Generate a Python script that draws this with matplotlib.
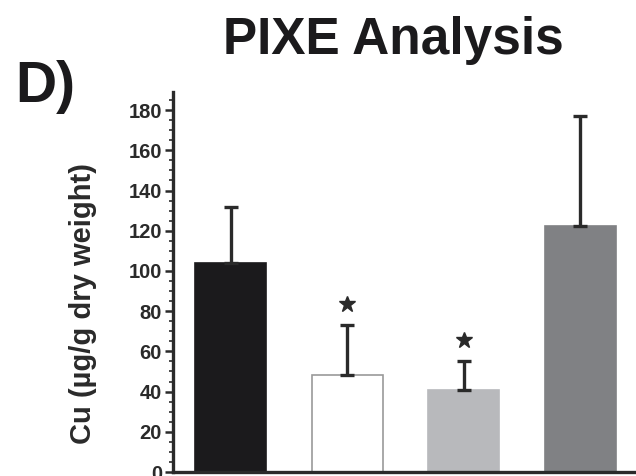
import numpy as np
import matplotlib
matplotlib.use("Agg")
import matplotlib.pyplot as plt
from matplotlib.ticker import MultipleLocator

# values
groups = ["A", "B", "C", "D"]
means = [104, 48, 41, 122.5]
errors = [28, 25, 14, 54.5]
bar_colors = ["#1b1a1c", "#ffffff", "#b8b9bc", "#808184"]
edge_colors = ["#1b1a1c", "#9a9a9a", "#b8b9bc", "#808184"]
significant = [False, True, True, False]
yticks = list(range(0, 181, 20))

plt.rcParams["font.family"] = ["Liberation Sans", "DejaVu Sans"]
plt.rcParams["font.weight"] = "bold"

W, H = 636, 476
fig = plt.figure(figsize=(W / 100, H / 100), dpi=100)
ax = fig.add_axes([173 / W, (H - 472) / H, (648 - 173) / W, (472 - 92) / H])

x = np.arange(len(groups))
ax.bar(x, means, width=0.61, color=bar_colors, edgecolor=edge_colors,
       linewidth=1.2, zorder=2)
ax.errorbar(x, means, yerr=[np.zeros(len(errors)), errors], fmt="none",
            ecolor="#2a2a2a", elinewidth=2.4, capsize=5, capthick=2.4,
            zorder=3)
# significance stars above the error bars
for xi, m, e, s in zip(x, means, errors, significant):
    if s:
        ax.plot(xi, m + e + 10.5, marker="*", markersize=12,
                color="#2a2a2a", zorder=4, clip_on=False)

ax.set_xlim(-0.497, 3.58)
ax.set_ylim(0, 189)
ax.set_yticks(yticks)
ax.yaxis.set_minor_locator(MultipleLocator(5))
ax.set_xticks([])
ax.tick_params(axis="y", which="major", length=6, width=1.8,
               labelsize=14.5, pad=2, colors="#2a2a2a")
ax.tick_params(axis="y", which="minor", length=3, width=1.2,
               colors="#2a2a2a")
for lab in ax.get_yticklabels():
    lab.set_fontweight("bold")
ax.spines["top"].set_visible(False)
ax.spines["right"].set_visible(False)
for sp in ["left", "bottom"]:
    ax.spines[sp].set_linewidth(2.4)
    ax.spines[sp].set_color("#2a2a2a")

fig.text(83 / W, 1 - 303 / H, "Cu (µg/g dry weight)", rotation=90,
         ha="center", va="center", fontsize=21, fontweight="bold",
         color="#2a2a2a")

fig.text(393 / W, 1 - 54 / H, "PIXE Analysis", ha="center", va="baseline",
         fontsize=37, fontweight="bold", color="#1b1a1c")
fig.text(15 / W, 1 - 102 / H, "D)", ha="left", va="baseline",
         fontsize=41, fontweight="bold", color="#1b1a1c")

fig.savefig("out.png", dpi=100)
